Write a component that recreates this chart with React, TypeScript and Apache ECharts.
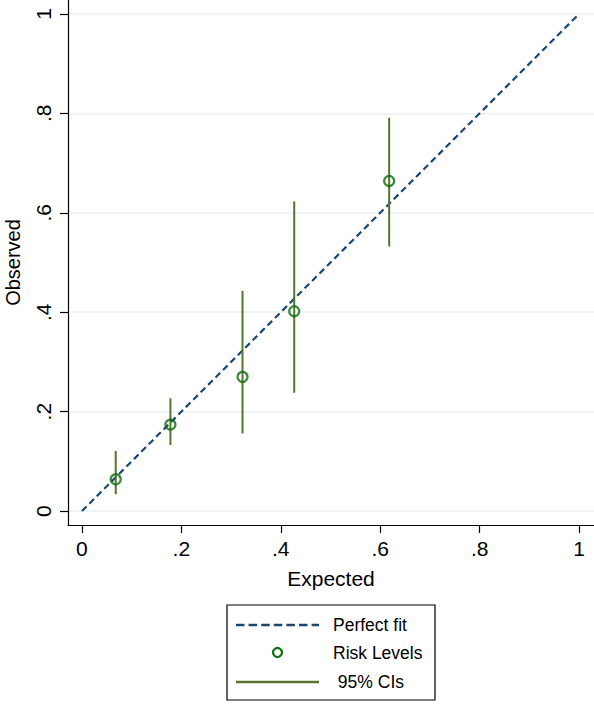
import React, { useEffect, useRef } from "react";
import * as echarts from "echarts";

const expected = [0.068, 0.178, 0.323, 0.427, 0.618];
const observed = [0.064, 0.174, 0.27, 0.402, 0.664];
const ciLow = [0.034, 0.133, 0.156, 0.238, 0.532];
const ciHigh = [0.121, 0.227, 0.443, 0.623, 0.791];
const tickValues = [0, 0.2, 0.4, 0.6, 0.8, 1];
const fitLine = [
  [0, 0],
  [1, 1],
];
const legendLabels = ["Perfect fit", "Risk Levels", " 95% CIs"];

const FONT = "'Liberation Sans', Arial, Helvetica, sans-serif";
const NAVY = "#1a476f";
const DKGREEN = "#0a6c0a";
const FOREST = "#55752f";

const fmt = (v: number) => {
  if (Math.abs(v) < 1e-9) return "0";
  if (Math.abs(v - 1) < 1e-9) return "1";
  return String(Math.round(v * 10) / 10).replace(/^0/, "");
};

export default function App() {
  const ref = useRef<HTMLDivElement>(null);
  useEffect(() => {
    document.body.style.margin = "0";
    if (!ref.current) return;
    const chart = echarts.init(ref.current, null, { renderer: "svg" });
    const axisCommon = {
      type: "value" as const,
      min: -0.028,
      nameLocation: "middle" as const,
      nameTextStyle: { fontFamily: FONT, fontSize: 21, color: "#000" },
      axisLine: { show: true, onZero: false, lineStyle: { color: "#000", width: 1.2 } },
      axisTick: {
        show: true,
        length: 8,
        customValues: tickValues,
        lineStyle: { color: "#000", width: 1.2 },
      },
      axisLabel: {
        customValues: tickValues,
        formatter: (v: number) => fmt(v),
        fontFamily: FONT,
        fontSize: 21,
        color: "#000",
      },
    };
    const option: any = {
      animation: false,
      backgroundColor: "#fff",
      grid: {
        left: 68,
        right: 0,
        top: 0,
        bottom: 179,
        containLabel: false,
        outerBoundsMode: "none",
      },
      xAxis: {
        ...axisCommon,
        max: 1.03,
        name: "Expected",
        nameGap: 43,
        axisLabel: { ...axisCommon.axisLabel, margin: 13 },
        splitLine: { show: false },
      },
      yAxis: {
        ...axisCommon,
        max: 1.028,
        name: "Observed",
        nameGap: 47,
        nameRotate: 90,
        nameTextStyle: { ...axisCommon.nameTextStyle, fontSize: 20, lineHeight: 16 },
        axisLabel: { ...axisCommon.axisLabel, rotate: 90, margin: 14 },
        splitLine: { show: true, lineStyle: { color: "#eaf2f3", width: 1.5 } },
      },
      series: [
        {
          name: legendLabels[0],
          type: "line",
          data: fitLine,
          symbol: "none",
          lineStyle: { color: NAVY, width: 2.2, type: [6.5, 4] },
          z: 2,
        },
        {
          name: legendLabels[2],
          type: "custom",
          data: expected.map((x, i) => [x, ciLow[i], ciHigh[i]]),
          renderItem: (params: any, api: any) => {
            const p1 = api.coord([api.value(0), api.value(1)]);
            const p2 = api.coord([api.value(0), api.value(2)]);
            return {
              type: "line",
              shape: { x1: p1[0], y1: p1[1], x2: p2[0], y2: p2[1] },
              style: { stroke: FOREST, lineWidth: 2 },
            };
          },
          z: 3,
        },
        {
          name: legendLabels[1],
          type: "scatter",
          data: expected.map((x, i) => [x, observed[i]]),
          symbol: "circle",
          symbolSize: 10,
          itemStyle: { color: "rgba(0,0,0,0)", borderColor: DKGREEN, borderWidth: 2.2 },
          z: 4,
        },
      ],
      graphic: [
        {
          type: "rect",
          shape: { x: 227, y: 605, width: 208, height: 95 },
          style: { fill: "#fff", stroke: "#000", lineWidth: 1.2 },
        },
        {
          type: "line",
          shape: { x1: 236, y1: 625, x2: 319, y2: 625 },
          style: { stroke: NAVY, lineWidth: 2.5, lineDash: [8.5, 4.1] },
        },
        {
          type: "circle",
          shape: { cx: 277.5, cy: 652.5, r: 4.5 },
          style: { fill: "#fff", stroke: DKGREEN, lineWidth: 2.2 },
        },
        {
          type: "line",
          shape: { x1: 236, y1: 682, x2: 319, y2: 682 },
          style: { stroke: FOREST, lineWidth: 2.6 },
        },
        {
          type: "text",
          x: 333,
          y: 625,
          style: { text: legendLabels[0], font: `17.5px ${FONT}`, fill: "#000", verticalAlign: "middle" },
        },
        {
          type: "text",
          x: 333,
          y: 653,
          style: { text: legendLabels[1], font: `17.5px ${FONT}`, fill: "#000", verticalAlign: "middle" },
        },
        {
          type: "text",
          x: 333,
          y: 682,
          style: { text: legendLabels[2], font: `17.5px ${FONT}`, fill: "#000", verticalAlign: "middle" },
        },
      ],
    };
    chart.setOption(option);
    return () => chart.dispose();
  }, []);
  return <div ref={ref} style={{ width: 594, height: 704 }} />;
}
